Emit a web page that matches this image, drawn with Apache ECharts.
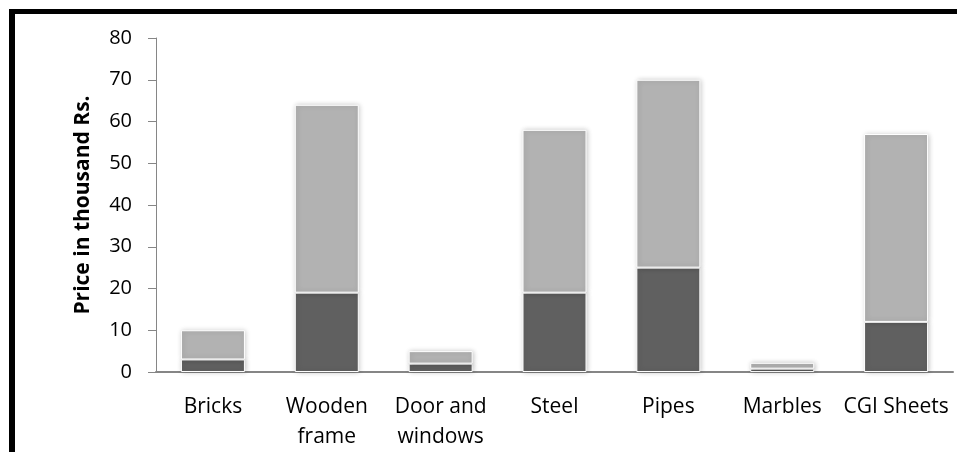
<!DOCTYPE html>
<html>
<head>
<meta charset="utf-8">
<script src="https://cdn.jsdelivr.net/npm/echarts@6/dist/echarts.min.js"></script>
<style>
  html, body { margin: 0; padding: 0; background: #fff; overflow: hidden; }
  #chart { width: 957px; height: 452px; }
</style>
</head>
<body>
<div id="chart"></div>
<script>
// Building material prices (thousand Rs.), two stacked components per item
const categories = ['Bricks', 'Wooden\nframe', 'Door and\nwindows', 'Steel', 'Pipes', 'Marbles', 'CGI Sheets'];
const lowerValues = [3, 19, 2, 19, 25, 0.8, 12];
const upperValues = [7, 45, 3, 39, 45, 1.4, 45];
const yTicks = [0, 10, 20, 30, 40, 50, 60, 70, 80];

const FONT = '"Open Sans", sans-serif';

const chart = echarts.init(document.getElementById('chart'), null, { renderer: 'canvas' });

const barStyle = (color) => ({
  color: color,
  borderColor: '#ffffff',
  borderWidth: 1,
  shadowBlur: 5,
  shadowColor: 'rgba(0,0,0,0.22)',
  shadowOffsetX: 1,
  shadowOffsetY: 0
});

chart.setOption({
  animation: false,
  backgroundColor: '#ffffff',
  grid: { left: 156, right: 4, top: 38, bottom: 76, containLabel: false },
  graphic: [
    // black frame strips along the top and left edges
    { type: 'rect', shape: { x: 9, y: 9, width: 948, height: 5 }, style: { fill: '#000' }, z: 100 },
    { type: 'rect', shape: { x: 9, y: 9, width: 6, height: 443 }, style: { fill: '#000' }, z: 100 }
  ],
  xAxis: {
    type: 'category',
    data: categories,
    axisLine: { lineStyle: { color: '#868686', width: 2 } },
    axisTick: { show: false },
    axisLabel: {
      color: '#000',
      fontFamily: FONT,
      fontSize: 21,
      lineHeight: 30,
      margin: 20,
      interval: 0
    }
  },
  yAxis: {
    type: 'value',
    min: yTicks[0],
    max: yTicks[yTicks.length - 1],
    interval: 10,
    name: 'Price in thousand Rs.',
    nameLocation: 'middle',
    nameGap: 62,
    nameTextStyle: { color: '#000', fontFamily: FONT, fontSize: 21, fontWeight: 'bold' },
    splitLine: { show: false },
    axisLine: { show: true, lineStyle: { color: '#868686', width: 1 } },
    axisTick: { show: true, length: 8, lineStyle: { color: '#868686' } },
    axisLabel: { color: '#000', fontFamily: FONT, fontSize: 20, margin: 24 }
  },
  series: [
    {
      type: 'bar',
      stack: 'price',
      data: lowerValues,
      barWidth: 64,
      itemStyle: barStyle('#606060')
    },
    {
      type: 'bar',
      stack: 'price',
      data: upperValues,
      barWidth: 64,
      itemStyle: barStyle('#b2b2b2')
    }
  ]
});
</script>
</body>
</html>
